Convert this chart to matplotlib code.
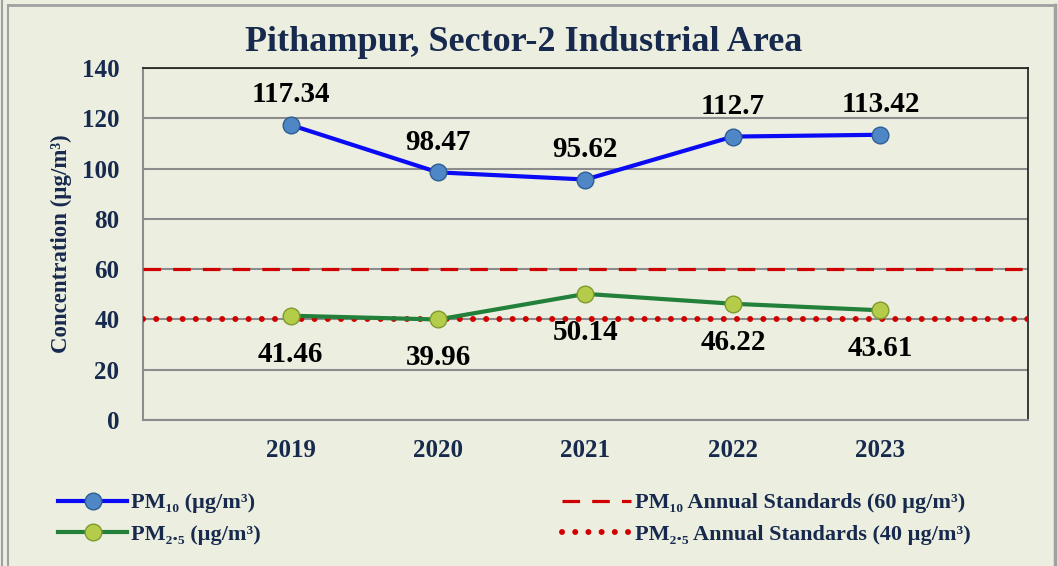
import matplotlib
matplotlib.use("Agg")
import matplotlib.pyplot as plt
from matplotlib.lines import Line2D

years = ["2019", "2020", "2021", "2022", "2023"]
pm10 = [117.34, 98.47, 95.62, 112.7, 113.42]
pm25 = [41.46, 39.96, 50.14, 46.22, 43.61]
pm10_std = 60
pm25_std = 40
title = "Pithampur, Sector-2 Industrial Area"
ylabel = "Concentration (µg/m³)"
legend_labels = ["PM₁₀ (µg/m³)", "PM₂.₅ (µg/m³)",
                 "PM₁₀ Annual Standards (60 µg/m³)", "PM₂.₅ Annual Standards (40 µg/m³)"]
yticks = [0, 20, 40, 60, 80, 100, 120, 140]

BG = "#ECEFE0"
NAVY = "#172A4E"
SERIF = ["Liberation Serif", "DejaVu Serif"]
plt.rcParams["font.family"] = SERIF

fig = plt.figure(figsize=(10.58, 5.66), dpi=100, facecolor=BG)
ax = fig.add_axes([0.1352, 0.258, 0.8364, 0.622], facecolor=BG)

x = list(range(1, len(years) + 1))

ax.axhline(pm10_std, color="#D00000", lw=2.3, dashes=(5.5, 3.8), zorder=3)
ax.axhline(pm25_std, color="#D00000", lw=4.3, dashes=(0.01, 2.2),
           dash_capstyle="round", zorder=3)

ax.plot(x, pm10, color="#0A0AF5", lw=3, marker="o", ms=12,
        mfc="#4F86C6", mec="#2F5E96", mew=1, zorder=5)
ax.plot(x, pm25, color="#22803A", lw=3, marker="o", ms=12,
        mfc="#B5CC4A", mec="#7E9A2E", mew=1, zorder=5)

for xi, v in zip(x, pm10):
    ax.annotate(f"{v:g}", (xi, v), xytext=(0, 12), textcoords="offset points",
                ha="center", va="bottom", fontsize=21, fontweight="bold", color="black")
for xi, v in zip(x, pm25):
    ax.annotate(f"{v:g}", (xi, v), xytext=(0, -18), textcoords="offset points",
                ha="center", va="top", fontsize=21, fontweight="bold", color="black")

ax.set_xlim(0, 6)
ax.set_ylim(0, 140)
ax.set_yticks(yticks)
ax.set_xticks(x)
ax.set_xticklabels(years)
ax.grid(axis="y", color="#8C8C8C", lw=1.5)
ax.set_axisbelow(True)
ax.tick_params(axis="both", length=0, labelsize=18, labelcolor=NAVY)
ax.tick_params(axis="y", pad=17)
ax.tick_params(axis="x", pad=14)
for lab in ax.get_xticklabels() + ax.get_yticklabels():
    lab.set_fontweight("bold")
for s in ["left", "bottom"]:
    ax.spines[s].set_color("#8C8C8C")
    ax.spines[s].set_linewidth(1.5)
for s in ["top", "right"]:
    ax.spines[s].set_color("#1A1A1A")
    ax.spines[s].set_linewidth(1.2)

ax.set_ylabel(ylabel, fontsize=16.5, fontweight="bold", color=NAVY)
ax.yaxis.set_label_coords(-0.080, 0.5)

fig.text(0.495, 0.925, title, ha="center", va="center", fontsize=26,
         fontweight="bold", color=NAVY)

h1 = Line2D([], [], color="#0A0AF5", lw=3, marker="o", ms=12, mfc="#4F86C6", mec="#2F5E96")
h2 = Line2D([], [], color="#22803A", lw=3, marker="o", ms=12, mfc="#B5CC4A", mec="#7E9A2E")
h3 = Line2D([], [], color="#D00000", lw=2.3, dashes=(5.5, 3.8))
h4 = Line2D([], [], color="#D00000", lw=4.3, dashes=(0.01, 2.2), dash_capstyle="round")

props = {"family": SERIF, "weight": "bold", "size": 16}
lg1 = fig.legend([h1, h2], legend_labels[:2], loc="center left",
                 bbox_to_anchor=(0.036, 0.083), frameon=False, handlelength=3.1,
                 handletextpad=0.2, labelspacing=0.5, prop=props)
lg2 = fig.legend([h3, h4], legend_labels[2:], loc="center left",
                 bbox_to_anchor=(0.512, 0.083), frameon=False, handlelength=3.1,
                 handletextpad=0.2, labelspacing=0.5, prop=props)
for lg in (lg1, lg2):
    for t in lg.get_texts():
        t.set_color(NAVY)

# figure frame
fig.add_artist(Line2D([0.008, 0.997], [0.991, 0.991], transform=fig.transFigure, color="#A0A0A0", lw=2))
fig.add_artist(Line2D([0.997, 0.997], [0.0, 0.991], transform=fig.transFigure, color="#A0A0A0", lw=2.5))
fig.add_artist(Line2D([0.008, 0.008], [0.0, 0.991], transform=fig.transFigure, color="#A0A0A0", lw=1.5))
fig.add_artist(Line2D([0.002, 0.002], [0.0, 1.0], transform=fig.transFigure, color="#A0A0A0", lw=1.5))

fig.savefig("out.png", dpi=100, facecolor=BG)
